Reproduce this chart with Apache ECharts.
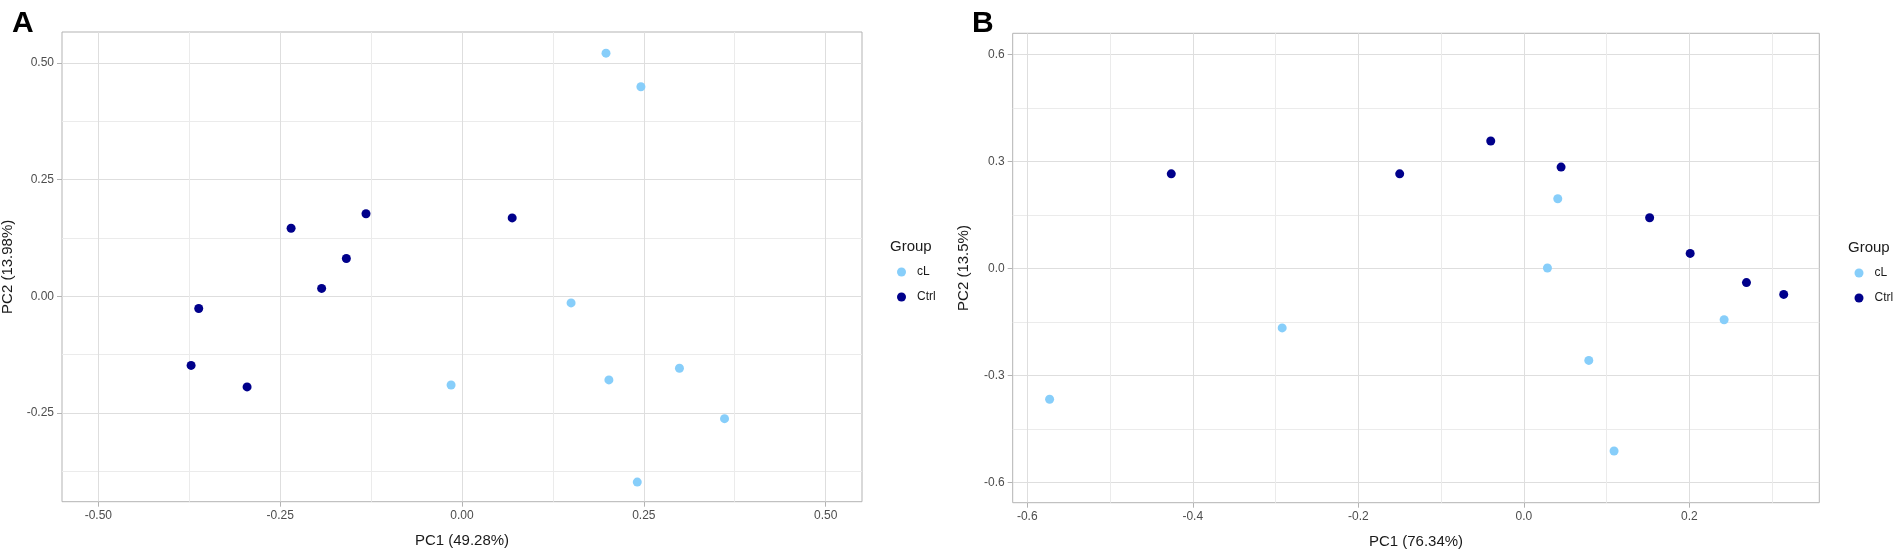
<!DOCTYPE html>
<html lang="en">
<head>
<meta charset="UTF-8">
<title>PCA</title>
<script src="https://cdn.jsdelivr.net/npm/echarts@6/dist/echarts.min.js"></script>
<style>
    * { margin: 0; padding: 0; }
    html, body { background: #fff; }
    #chart { width: 1902px; height: 551px; }
</style>
</head>
<body>
<div id="chart"></div>
<script>
// groups
var groups = ['cL', 'Ctrl'];
var groupColors = ['#87CEFA', '#00008B'];

// panel A scores
var aCLPC1 = [0.198, 0.246, 0.150, -0.015, 0.202, 0.299, 0.361, 0.241];
var aCLPC2 = [0.521, 0.449, -0.014, -0.190, -0.179, -0.154, -0.262, -0.398];
var aCtrlPC1 = [-0.235, -0.132, -0.159, -0.193, -0.362, -0.3725, -0.2955, 0.069];
var aCtrlPC2 = [0.146, 0.177, 0.081, 0.017, -0.026, -0.148, -0.194, 0.168];

// panel B scores
var bCLPC1 = [0.041, 0.0285, 0.242, 0.0785, 0.109, -0.292, -0.573];
var bCLPC2 = [0.195, 0.001, -0.144, -0.258, -0.512, -0.167, -0.367];
var bCtrlPC1 = [-0.426, -0.150, -0.040, 0.045, 0.152, 0.201, 0.269, 0.314];
var bCtrlPC2 = [0.265, 0.265, 0.357, 0.284, 0.142, 0.042, -0.040, -0.073];

// ticks
var aTicksX = [-0.5, -0.25, 0, 0.25, 0.5];
var aLabelsX = ['-0.50', '-0.25', '0.00', '0.25', '0.50'];
var aMinorX = [-0.375, -0.125, 0.125, 0.375];
var aTicksY = [-0.25, 0, 0.25, 0.5];
var aLabelsY = ['-0.25', '0.00', '0.25', '0.50'];
var aMinorY = [-0.375, -0.125, 0.125, 0.375];

var bTicksX = [-0.6, -0.4, -0.2, 0, 0.2];
var bLabelsX = ['-0.6', '-0.4', '-0.2', '0.0', '0.2'];
var bMinorX = [-0.5, -0.3, -0.1, 0.1, 0.3];
var bTicksY = [-0.6, -0.3, 0, 0.3, 0.6];
var bLabelsY = ['-0.6', '-0.3', '0.0', '0.3', '0.6'];
var bMinorY = [-0.45, -0.15, 0.15, 0.45];

function pairs(xs, ys) {
    return xs.map(function (x, i) { return [x, ys[i]]; });
}

function majorAxis(grid, min, max, ticks, labels, name, gap, vertical) {
    return {
        type: 'value', gridIndex: grid, min: min, max: max,
        name: name, nameLocation: 'middle', nameGap: gap, nameRotate: vertical ? 90 : 0,
        nameTextStyle: { fontFamily: 'Liberation Sans', fontSize: 15, color: '#1a1a1a' },
        axisLine: { show: false, onZero: false },
        axisTick: { show: true, inside: false, length: 5, customValues: ticks,
            lineStyle: { color: '#b3b3b3', width: 1 } },
        axisLabel: {
            customValues: ticks, margin: 8, fontFamily: 'Liberation Sans', fontSize: 12, color: '#4d4d4d',
            formatter: function (v) {
                for (var i = 0; i < ticks.length; i++) {
                    if (Math.abs(ticks[i] - v) < 1e-9) return labels[i];
                }
                return '';
            }
        },
        splitLine: { show: true, lineStyle: { color: '#dedede', width: 1 } }
    };
}

function minorAxis(grid, min, max, ticks) {
    return {
        type: 'value', gridIndex: grid, min: min, max: max,
        axisLine: { show: false, onZero: false },
        axisTick: { show: false, customValues: ticks },
        axisLabel: { show: false },
        splitLine: { show: true, lineStyle: { color: '#ebebeb', width: 1 } }
    };
}

function scatter(name, color, xi, yi, data) {
    return {
        name: name, type: 'scatter', xAxisIndex: xi, yAxisIndex: yi,
        symbol: 'circle', symbolSize: 9, data: data,
        itemStyle: { color: color, opacity: 1 }
    };
}

var chart = echarts.init(document.getElementById('chart'));
var option = {
    animation: false,
    backgroundColor: '#fff',
    textStyle: { fontFamily: 'Liberation Sans' },
    title: [
        { text: 'A', left: 7, top: 4, textStyle: { fontSize: 30, fontWeight: 'bold', color: '#000', lineHeight: 30 } },
        { text: 'B', left: 967, top: 4, textStyle: { fontSize: 30, fontWeight: 'bold', color: '#000', lineHeight: 30 } },
        { text: 'Group', left: 885, top: 233, textStyle: { fontSize: 15, fontWeight: 'normal', color: '#1a1a1a', lineHeight: 18 } },
        { text: 'Group', left: 1843, top: 234, textStyle: { fontSize: 15, fontWeight: 'normal', color: '#1a1a1a', lineHeight: 18 } }
    ],
    legend: [
        { data: groups, orient: 'vertical', left: 892, top: 260, icon: 'circle',
          itemWidth: 9, itemHeight: 9, itemGap: 11,
          textStyle: { fontSize: 12, color: '#1a1a1a', lineHeight: 14, padding: [0, 0, 0, 6] } },
        { data: groups, orient: 'vertical', left: 1849.5, top: 261, icon: 'circle',
          itemWidth: 9, itemHeight: 9, itemGap: 11,
          textStyle: { fontSize: 12, color: '#1a1a1a', lineHeight: 14, padding: [0, 0, 0, 6] } }
    ],
    grid: [
        { left: 62, top: 32, width: 800, height: 469.7, show: true, borderColor: '#b3b3b3', borderWidth: 1,
          backgroundColor: 'transparent', outerBoundsMode: 'none' },
        { left: 1012.7, top: 33.3, width: 806.6, height: 469.4, show: true, borderColor: '#b3b3b3', borderWidth: 1,
          backgroundColor: 'transparent', outerBoundsMode: 'none' }
    ],
    xAxis: [
        majorAxis(0, -0.55, 0.55, aTicksX, aLabelsX, 'PC1 (49.28%)', 32, false),
        minorAxis(0, -0.55, 0.55, aMinorX),
        majorAxis(1, -0.6176, 0.357, bTicksX, bLabelsX, 'PC1 (76.34%)', 32, false),
        minorAxis(1, -0.6176, 0.357, bMinorX)
    ],
    yAxis: [
        majorAxis(0, -0.44, 0.5664, aTicksY, aLabelsY, 'PC2 (13.98%)', 47, true),
        minorAxis(0, -0.44, 0.5664, aMinorY),
        majorAxis(1, -0.657, 0.659, bTicksY, bLabelsY, 'PC2 (13.5%)', 41, true),
        minorAxis(1, -0.657, 0.659, bMinorY)
    ],
    series: [
        scatter('cL', groupColors[0], 0, 0, pairs(aCLPC1, aCLPC2)),
        scatter('Ctrl', groupColors[1], 0, 0, pairs(aCtrlPC1, aCtrlPC2)),
        scatter('cL', groupColors[0], 2, 2, pairs(bCLPC1, bCLPC2)),
        scatter('Ctrl', groupColors[1], 2, 2, pairs(bCtrlPC1, bCtrlPC2))
    ]
};
chart.setOption(option);
</script>
</body>
</html>
